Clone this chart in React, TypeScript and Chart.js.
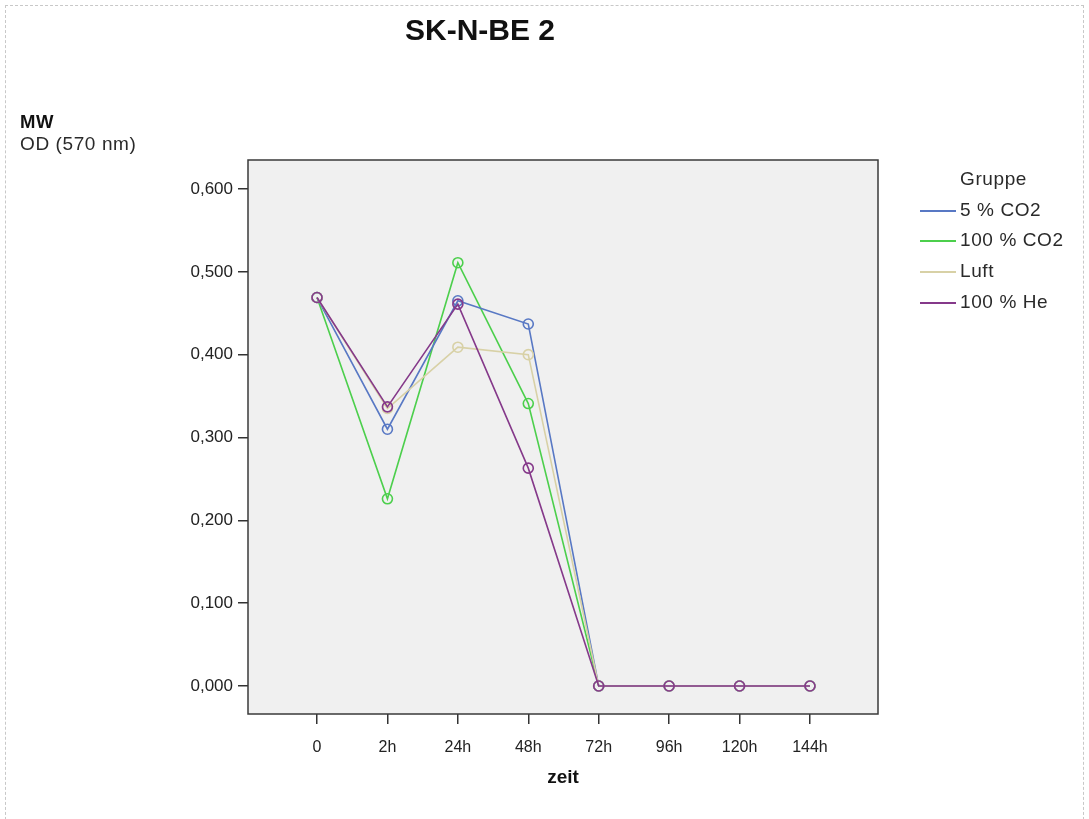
import React, { useEffect, useRef } from "react";
import { Chart, registerables } from "chart.js";

Chart.register(...registerables);

const timeLabels = ["0", "2h", "24h", "48h", "72h", "96h", "120h", "144h"];
const yTicks = [0, 0.1, 0.2, 0.3, 0.4, 0.5, 0.6];

const seriesNames = ["5 % CO2", "100 % CO2", "Luft", "100 % He"];
const seriesColors = ["#5878c4", "#4ccf4c", "#d8d1a6", "#85398a"];

const co2_5 = [0.469, 0.31, 0.465, 0.437, 0, 0, 0, 0];
const co2_100 = [0.469, 0.226, 0.511, 0.341, 0, 0, 0, 0];
const luft = [0.469, 0.335, 0.409, 0.4, 0, 0, 0, 0];
const he_100 = [0.469, 0.337, 0.461, 0.263, 0, 0, 0, 0];

const seriesValues = [co2_5, co2_100, luft, he_100];
const seriesOrder = [2, 3, 1, 0];

const FONT = "Arial, 'Liberation Sans', Helvetica, sans-serif";

const framePlugin = {
  id: "frame",
  beforeDatasetsDraw(chart: any) {
    const { ctx, chartArea } = chart;
    const { left, top, right, bottom } = chartArea;
    ctx.save();
    ctx.fillStyle = "#f0f0f0";
    ctx.fillRect(left, top, right - left, bottom - top);
    ctx.restore();
  },
  afterDraw(chart: any) {
    const { ctx, chartArea } = chart;
    const { left, top, right, bottom } = chartArea;
    ctx.save();
    ctx.strokeStyle = "#3a3a3a";
    ctx.lineWidth = 1.5;
    ctx.strokeRect(left, top, right - left, bottom - top);

    // title
    ctx.fillStyle = "#111";
    ctx.textBaseline = "middle";
    ctx.textAlign = "center";
    ctx.font = `bold 30px ${FONT}`;
    ctx.fillText("SK-N-BE 2", 480, 32);

    // y caption
    ctx.textAlign = "left";
    try {
      (ctx as any).letterSpacing = "0.6px";
    } catch (e) {}
    ctx.font = `bold 18.5px ${FONT}`;
    ctx.fillText("MW", 20, 123);
    ctx.font = `19px ${FONT}`;
    ctx.fillStyle = "#2a2a2a";
    ctx.fillText("OD (570 nm)", 20, 145);

    // legend
    ctx.font = `19px ${FONT}`;
    ctx.fillText("Gruppe", 960, 180);
    const ys = [211, 241, 272, 303];
    chart.data.datasets.forEach((ds: any, i: number) => {
      const y = ys[i];
      ctx.strokeStyle = ds.borderColor;
      ctx.lineWidth = 2;
      ctx.beginPath();
      ctx.moveTo(920, y);
      ctx.lineTo(956, y);
      ctx.stroke();
      ctx.fillStyle = "#2a2a2a";
      ctx.fillText(ds.label, 960, y);
    });
    ctx.restore();
  },
};

export default function App() {
  const canvasRef = useRef<HTMLCanvasElement | null>(null);

  useEffect(() => {
    if (!canvasRef.current) return;
    const datasets = seriesNames.map((name, i) => ({
      label: name,
      data: seriesValues[i].map((v, j) => ({ x: j, y: v })),
      borderColor: seriesColors[i],
      backgroundColor: "rgba(0,0,0,0)",
      borderWidth: 1.6,
      pointRadius: 5,
      pointHoverRadius: 5,
      pointBorderWidth: 1.6,
      pointBorderColor: seriesColors[i],
      pointBackgroundColor: "rgba(0,0,0,0)",
      order: seriesOrder[i],
      tension: 0,
    }));

    const chart = new Chart(canvasRef.current, {
      type: "line",
      data: { datasets },
      plugins: [framePlugin],
      options: {
        animation: false,
        responsive: false,
        events: [],
        layout: { padding: { top: 160, right: 211, left: 0, bottom: 0 } },
        plugins: {
          legend: { display: false },
          tooltip: { enabled: false },
          title: { display: false },
        },
        scales: {
          x: {
            type: "linear",
            min: -0.98,
            max: 7.966,
            afterFit(scale: any) {
              scale.height = 105;
            },
            afterBuildTicks(scale: any) {
              scale.ticks = timeLabels.map((_, i) => ({ value: i }));
            },
            border: { display: false },
            grid: {
              drawOnChartArea: false,
              drawTicks: true,
              tickLength: 10,
              color: "#333",
              lineWidth: 1.5,
            },
            ticks: {
              autoSkip: false,
              maxRotation: 0,
              padding: 14,
              color: "#222",
              font: { family: FONT, size: 16 },
              callback: (v: any) => timeLabels[Math.round(Number(v))] ?? "",
            },
            title: {
              display: true,
              text: "zeit",
              color: "#111",
              font: { family: FONT, size: 19, weight: "bold" },
              padding: { top: 4, bottom: 30 },
            },
          },
          y: {
            type: "linear",
            min: -0.0338,
            max: 0.635,
            afterFit(scale: any) {
              scale.width = 248;
            },
            afterBuildTicks(scale: any) {
              scale.ticks = yTicks.map((v) => ({ value: v }));
            },
            border: { display: false },
            grid: {
              drawOnChartArea: false,
              drawTicks: true,
              tickLength: 10,
              color: "#333",
              lineWidth: 1.5,
            },
            ticks: {
              padding: 5,
              color: "#222",
              font: { family: FONT, size: 17 },
              callback: (v: any) => Number(v).toFixed(3).replace(".", ","),
            },
          },
        },
      },
    });
    return () => chart.destroy();
  }, []);

  return (
    <div style={{ position: "absolute", left: 0, top: 0, width: 1089, height: 819, background: "#fff" }}>
      <div
        style={{
          position: "absolute",
          left: 5,
          top: 5,
          width: 1079,
          height: 830,
          border: "1px dashed #c8c8c8",
          boxSizing: "border-box",
        }}
      />
      <canvas ref={canvasRef} width={1089} height={819} style={{ position: "absolute", left: 0, top: 0 }} />
    </div>
  );
}
